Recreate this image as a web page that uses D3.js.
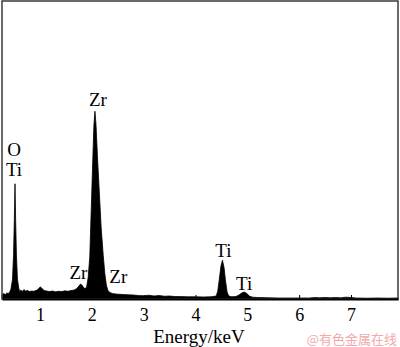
<!DOCTYPE html>
<html lang="en">
<head>
	<meta charset="utf-8">
	<title>EDS spectrum</title>
	<script src="https://cdn.jsdelivr.net/npm/d3@7"></script>
	<style>
		body { margin: 0; background: #fff; }
		text { font-family: "Liberation Serif", "DejaVu Serif", serif; }
	</style>
</head>
<body>
	<div id="chart"></div>
	<script>
		// spectrum (energy in keV, counts in arbitrary units)
		const energy = [0.27, 0.30, 0.33, 0.36, 0.39, 0.42, 0.44, 0.47, 0.49, 0.505, 0.518, 0.53, 0.545, 0.565, 0.59,
			0.61, 0.63, 0.66, 0.69, 0.72, 0.76, 0.80, 0.84, 0.88, 0.92, 0.96, 0.99, 1.01, 1.04, 1.08, 1.13, 1.18,
			1.24, 1.30, 1.36, 1.42, 1.48, 1.54, 1.60, 1.66, 1.71, 1.75, 1.78, 1.81, 1.84, 1.87, 1.90, 1.93, 1.96,
			1.99, 2.01, 2.04, 2.06, 2.08, 2.11, 2.14, 2.18, 2.22, 2.25, 2.28, 2.31, 2.35, 2.40, 2.46, 2.52, 2.60,
			2.70, 2.80, 2.90, 3.00, 3.10, 3.20, 3.30, 3.40, 3.50, 3.60, 3.70, 3.85, 4.00, 4.15, 4.30, 4.40, 4.43,
			4.46, 4.49, 4.52, 4.55, 4.58, 4.61, 4.64, 4.70, 4.78, 4.84, 4.89, 4.94, 4.99, 5.04, 5.10, 5.20, 5.40,
			5.60, 5.80, 6.00, 6.20, 6.30, 6.40, 6.50, 6.60, 6.70, 6.80, 6.90, 7.00, 7.10, 7.30, 7.50, 7.70, 7.91];
		const counts = [40, 55, 45, 60, 55, 75, 100, 200, 450, 800, 1160, 800, 450, 200, 110,
			70, 90, 75, 95, 80, 85, 75, 80, 78, 85, 95, 115, 120, 105, 85, 80, 75,
			80, 72, 78, 75, 82, 78, 85, 90, 105, 130, 150, 140, 115, 105, 120, 220, 420,
			920, 1260, 1750, 1890, 1760, 1420, 1120, 720, 440, 260, 140, 85, 65, 55, 50, 48, 45,
			42, 40, 35, 32, 38, 30, 35, 28, 30, 25, 24, 22, 22, 20, 22, 30, 80,
			200, 330, 390, 320, 180, 70, 30, 22, 25, 40, 60, 70, 55, 30, 18, 15, 12,
			10, 10, 10, 10, 15, 12, 15, 12, 15, 12, 18, 15, 10, 8, 10, 8, 10];

		// peak labels
		const peakLabels = [
			{ lines: ["O", "Ti"], e: 0.518, c: 1160 },
			{ lines: ["Zr"], e: 2.06, c: 1890 },
			{ lines: ["Zr"], e: 1.76, c: 150 },
			{ lines: ["Zr"], e: 2.51, c: 50 },
			{ lines: ["Ti"], e: 4.52, c: 390 },
			{ lines: ["Ti"], e: 4.94, c: 70 }
		];
		const tickValues = [1, 2, 3, 4, 5, 6, 7];
		const xTitle = "Energy/keV";
		const watermark = "@有色金属在线";

		const W = 400, H = 347;
		const plot = { left: 2, right: 398, top: 1, bottom: 299 };

		const svg = d3.select("#chart").append("svg")
			.attr("width", W)
			.attr("height", H);

		const x = d3.scaleLinear().domain([0.267, 7.907]).range([plot.left, plot.right]);
		const y = d3.scaleLinear().domain([0, 3000]).range([plot.bottom, plot.top]);

		const data = energy.map((e, i) => ({ e: e, c: counts[i] }));

		// filled spectrum
		svg.append("path")
			.datum(data)
			.attr("fill", "#000")
			.attr("stroke", "#000")
			.attr("stroke-width", 0.8)
			.attr("d", d3.area()
				.x(d => x(d.e))
				.y0(y(0))
				.y1(d => y(d.c)));

		// frame
		svg.append("rect")
			.attr("x", plot.left)
			.attr("y", plot.top)
			.attr("width", plot.right - plot.left)
			.attr("height", plot.bottom - plot.top)
			.attr("fill", "none")
			.attr("stroke", "#3a3a3a")
			.attr("stroke-width", 1.5);

		// bottom axis, ticks pointing inward
		const xAxis = svg.append("g")
			.attr("transform", "translate(0," + plot.bottom + ")")
			.call(d3.axisBottom(x)
				.tickValues(tickValues)
				.tickFormat(d3.format("d"))
				.tickSizeInner(-4)
				.tickSizeOuter(0)
				.tickPadding(9));
		xAxis.attr("font-family", null).attr("font-size", null);
		xAxis.select(".domain").attr("stroke", "#000").attr("stroke-width", 2);
		xAxis.selectAll(".tick line").attr("stroke", "#000");
		xAxis.selectAll(".tick text")
			.attr("fill", "#000")
			.style("font-family", "'Liberation Serif', serif")
			.style("font-size", "18px");

		svg.append("text")
			.attr("x", 199)
			.attr("y", 343)
			.attr("text-anchor", "middle")
			.style("font-size", "19px")
			.text(xTitle);

		// peak labels
		const labelOffsets = [
			{ dx: -1, dy: -8 },
			{ dx: 3, dy: -5 },
			{ dx: -1, dy: -5 },
			{ dx: 0, dy: -11 },
			{ dx: 1, dy: -3 },
			{ dx: 0, dy: -2 }
		];
		peakLabels.forEach((p, i) => {
			const n = p.lines.length;
			const t = svg.append("text")
				.attr("x", x(p.e) + labelOffsets[i].dx)
				.attr("y", y(p.c) + labelOffsets[i].dy - (n - 1) * 20)
				.attr("text-anchor", "middle")
				.style("font-size", "19px");
			p.lines.forEach((l, j) => {
				t.append("tspan")
					.attr("x", x(p.e) + labelOffsets[i].dx)
					.attr("dy", j === 0 ? 0 : 20)
					.text(l);
			});
		});

		// watermark
		svg.append("text")
			.attr("x", 397)
			.attr("y", 344)
			.attr("text-anchor", "end")
			.attr("fill", "#f2a9a9")
			.style("font-family", "'Noto Sans CJK SC', sans-serif")
			.style("font-size", "13px")
			.text(watermark);
	</script>
</body>
</html>
